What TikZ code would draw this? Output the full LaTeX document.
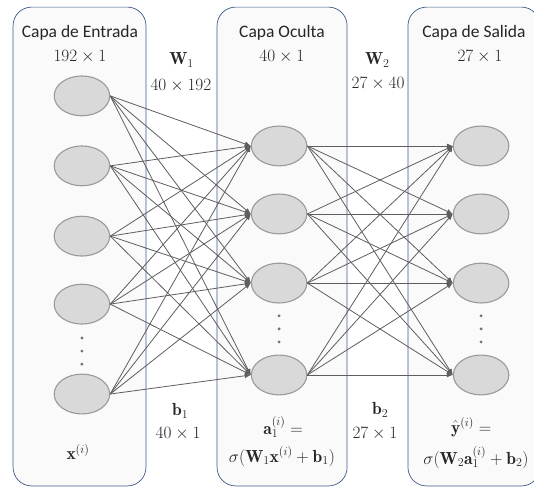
\documentclass[tikz,border=0pt]{standalone}
\usepackage{fontspec}
\setsansfont{Carlito}
\usetikzlibrary{shapes.geometric,arrows.meta}
\definecolor{layerline}{HTML}{3F5A8A}
\definecolor{layerfill}{HTML}{FAFAFA}
\definecolor{neuronfill}{HTML}{D9D9D9}
\definecolor{neuronline}{HTML}{9A9A9A}
\definecolor{wire}{HTML}{5E5E5E}
\begin{document}
\begin{tikzpicture}[
layer/.style={draw=layerline,fill=layerfill,line width=0.7pt,rounded corners=0.65cm},
neuron/.style={ellipse,draw=neuronline,fill=neuronfill,line width=1.1pt,minimum width=1.95cm,minimum height=1.4cm,inner sep=0pt},
wire/.style={draw=wire,line width=0.8pt,-{Latex[length=6pt,width=5pt]}},
title/.style={font=\sffamily\fontsize{17.5}{19}\selectfont,text=black!85},
lbl/.style={font=\fontsize{17.5}{19}\selectfont,text=black!85,inner sep=0pt}
]
\useasboundingbox (0,0) rectangle (18.77,-17.15);
% the three layers
\draw[layer] (0.46,-0.25) rectangle (5.13,-17.08);
\draw[layer] (7.63,-0.25) rectangle (12.20,-17.08);
\draw[layer] (14.34,-0.25) rectangle (18.98,-17.08);
% titles
\node[title] (tin) at (2.81,-1.16) {Capa de Entrada};
\node[lbl] (din) at (2.81,-2.0) {$192\times1$};
\node[title] (thid) at (9.91,-1.16) {Capa Oculta};
\node[lbl] (dhid) at (9.91,-2.0) {$40\times1$};
\node[title] (tout) at (16.66,-1.16) {Capa de Salida};
\node[lbl] (dout) at (16.87,-2.0) {$27\times1$};
\node[lbl] (w1) at (6.38,-2.10) {$\mathbf{W}_1$};
\node[lbl] (dw1) at (6.36,-3.00) {$40\times192$};
\node[lbl] (w2) at (13.26,-2.10) {$\mathbf{W}_2$};
\node[lbl] (dw2) at (13.29,-2.95) {$27\times40$};
% neurons
\node[neuron] (in1) at (2.88,-3.37) {};
\node[neuron] (in2) at (2.88,-5.83) {};
\node[neuron] (in3) at (2.88,-8.30) {};
\node[neuron] (in4) at (2.88,-10.69) {};
\node[neuron] (in5) at (2.88,-13.85) {};
\node[neuron] (hid1) at (9.81,-5.13) {};
\node[neuron] (hid2) at (9.81,-7.52) {};
\node[neuron] (hid3) at (9.81,-9.95) {};
\node[neuron] (hid4) at (9.81,-13.18) {};
\node[neuron] (out1) at (16.91,-5.13) {};
\node[neuron] (out2) at (16.91,-7.52) {};
\node[neuron] (out3) at (16.91,-9.95) {};
\node[neuron] (out4) at (16.91,-13.18) {};
% dots
\foreach \k in {-1,0,1} {
  \fill[black!55] (2.88,-12.34+0.46*\k) circle (1.6pt);
  \fill[black!55] (9.81,-11.56+0.46*\k) circle (1.6pt);
  \fill[black!55] (16.91,-11.56+0.46*\k) circle (1.6pt);
}
% connections
\foreach \i in {1,...,5}
  \foreach \j in {1,...,4}
    \draw[wire] (in\i.east) -- (hid\j.west);
\foreach \i in {1,...,4}
  \foreach \j in {1,...,4}
    \draw[wire] (hid\i.east) -- (out\j.west);
% bottom labels
\node[lbl] (b1) at (6.33,-14.45) {$\mathbf{b}_1$};
\node[lbl] (db1) at (6.26,-15.25) {$40\times1$};
\node[lbl] (b2) at (13.36,-14.40) {$\mathbf{b}_2$};
\node[lbl] (db2) at (13.18,-15.25) {$27\times1$};
\node[lbl] (xin) at (2.74,-15.89) {$\mathbf{x}^{(i)}$};
\node[lbl] (ahid) at (9.95,-15.02) {$\mathbf{a}_1^{(i)}=$};
\node[lbl] (fhid) at (9.91,-16.05) {$\sigma(\mathbf{W}_1\mathbf{x}^{(i)}+\mathbf{b}_1)$};
\node[lbl] (yout) at (16.56,-15.02) {$\hat{\mathbf{y}}^{(i)}=$};
\node[lbl] (fout) at (16.73,-16.08) {$\sigma(\mathbf{W}_2\mathbf{a}_1^{(i)}+\mathbf{b}_2)$};
\end{tikzpicture}
\end{document}
